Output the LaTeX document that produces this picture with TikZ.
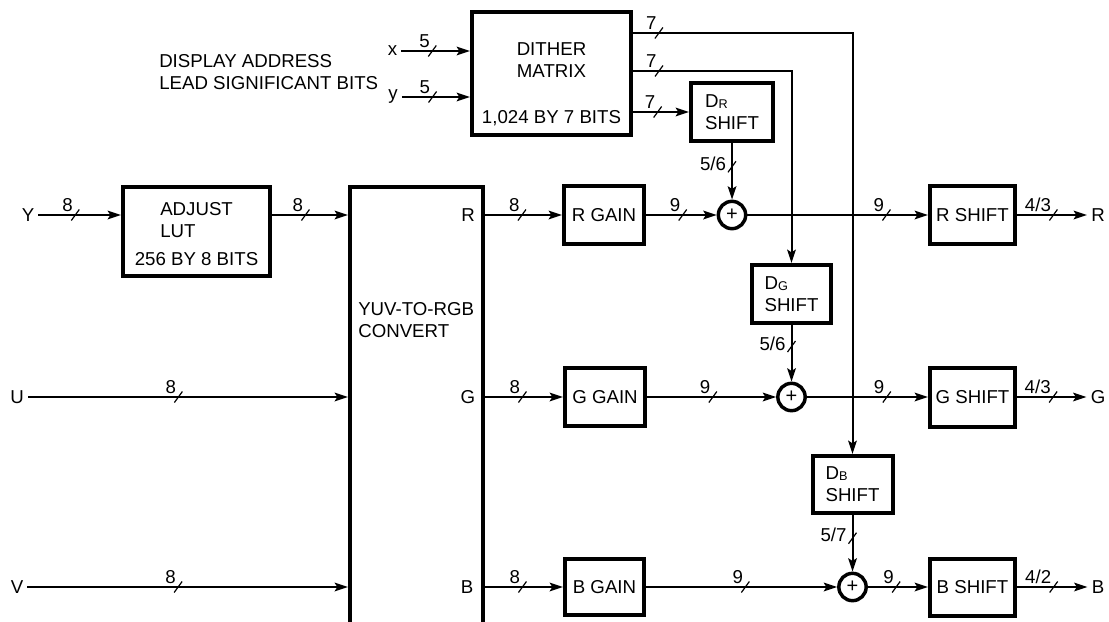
\documentclass[tikz,border=0pt]{standalone}
\usepackage{fontspec}
\setmainfont{Liberation Sans}
\usetikzlibrary{arrows.meta,calc}
\newcommand\sbs[1]{\raisebox{-0.6pt}{\fontsize{9.5}{10}\selectfont #1}}
\tikzset{
  blk/.style 2 args={draw, line width=3pt, inner sep=0, minimum width=#1*0.75pt, minimum height=#2*0.75pt},
  conn/.style={line width=1.5pt, -{Stealth[length=10pt,width=6.5pt,inset=2pt]}},
  adder/.style={circle, draw, line width=2.6pt, minimum size=20.5pt, inner sep=0, font=\fontsize{15}{15}\selectfont},
  lab/.style={inner sep=3pt},
  plain/.style={inner sep=0},
  pics/bh/.style={code={\draw[line width=0.9pt,-] (-4,5.5) -- (4,-5.5); \node[anchor=base east, inner sep=0] at (-1.5,-3.5) {#1};}},
  pics/bv/.style={code={\draw[line width=0.9pt,-] (-4,5.5) -- (4,-5.5); \node[anchor=base east, inner sep=0] at (-5,3.5) {#1};}},
}
\begin{document}
\begin{tikzpicture}[x=0.75pt, y=-0.75pt, font=\fontsize{14}{16.4}\selectfont]
\useasboundingbox (0,0) rectangle (1109,621);

% blocks
\node[blk={159}{123}] (dither) at (551.5,73.5) {};
\node[plain, align=center] (dithert) at (551.5,60) {DITHER\\MATRIX};
\node[plain] (ditherb) at (551.5,118) {1,024 BY 7 BITS};
\node[blk={82}{58}, align=left] (DR) at (732,112) {D\sbs{R}\\SHIFT};
\node[blk={147}{89}] (lut) at (196.5,231.5) {};
\node[plain, align=left, anchor=west] (lutt) at (160,220) {ADJUST\\LUT};
\node[plain] (lutb) at (196.5,259) {256 BY 8 BITS};
\node[blk={133}{473}] (yuv) at (416.5,423.5) {};
\node[plain, align=left, anchor=west] (yuvt) at (358,320) {YUV-TO-RGB\\CONVERT};
\node[plain] (yR) at (468,215) {R};
\node[plain] (yG) at (468,397) {G};
\node[plain] (yB) at (467,587) {B};

\node[blk={80}{58}] (Rgain) at (604,215) {R GAIN};
\node[blk={80}{58}] (Ggain) at (605,397) {G GAIN};
\node[blk={79}{56}] (Bgain) at (604.5,587) {B GAIN};
\node[blk={79}{58}, align=left] (DG) at (791.5,294) {D\sbs{G}\\SHIFT};
\node[blk={80}{57}, align=left] (DB) at (852.5,484.5) {D\sbs{B}\\SHIFT};
\node[blk={85}{58}] (Rshift) at (972.5,215) {R SHIFT};
\node[blk={85}{59}] (Gshift) at (972.5,397) {G SHIFT};
\node[blk={85}{57}] (Bshift) at (972.5,587) {B SHIFT};

\node[adder] (Radd) at (732,215) {+};
\node[adder] (Gadd) at (791.5,397) {+};
\node[adder] (Badd) at (852.5,587) {+};

% texts and terminals
\node[plain, align=left, anchor=west] (disp) at (159,72.5) {DISPLAY ADDRESS\\LEAD SIGNIFICANT BITS};
\node[lab] (xin) at (392.5,51) {x};
\node[lab] (yin) at (393,97) {y};
\node[lab] (Yin) at (28,215) {Y};
\node[lab] (Uin) at (17,397) {U};
\node[lab] (Vin) at (17,587) {V};
\node[lab] (Rout) at (1098,215) {R};
\node[lab] (Gout) at (1098,397) {G};
\node[lab] (Bout) at (1098,587) {B};

% connectors
\draw[conn] (xin.east) -- pic[pos=0.45]{bh=5} (xin.east -| dither.west);
\draw[conn] (yin.east) -- pic[pos=0.45]{bh=5} (yin.east -| dither.west);
\draw[conn] ($(dither.east)+(0,-40.5)$) -| pic[pos=0.059]{bh=7} (DB.north);
\draw[conn] ($(dither.east)+(0,-2.5)$) -| pic[pos=0.082]{bh=7} (DG.north);
\draw[conn] (DR.west -| dither.east) -- pic[pos=0.44]{bh=7} (DR.west);
\draw[conn] (DR.south) -- pic[pos=0.42]{bv=5/6} (Radd.north);
\draw[conn] (DG.south) -- pic[pos=0.38]{bv=5/6} (Gadd.north);
\draw[conn] (DB.south) -- pic[pos=0.41]{bv=5/7} (Badd.north);

\draw[conn] (Yin.east) -- pic[pos=0.446]{bh=8} (Yin.east -| lut.west);
\draw[conn] (Yin.east -| lut.east) -- pic[pos=0.44]{bh=8} (Yin.east -| yuv.west);
\draw[conn] (Uin.east) -- pic[pos=0.47]{bh=8} (Uin.east -| yuv.west);
\draw[conn] (Vin.east) -- pic[pos=0.47]{bh=8} (Vin.east -| yuv.west);

\draw[conn] (Rgain.west -| yuv.east) -- pic[pos=0.48]{bh=8} (Rgain.west);
\draw[conn] (Ggain.west -| yuv.east) -- pic[pos=0.48]{bh=8} (Ggain.west);
\draw[conn] (Bgain.west -| yuv.east) -- pic[pos=0.48]{bh=8} (Bgain.west);

\draw[conn] (Rgain.east) -- pic[pos=0.52]{bh=9} (Radd.west);
\draw[conn] (Ggain.east) -- pic[pos=0.51]{bh=9} (Gadd.west);
\draw[conn] (Bgain.east) -- pic[pos=0.52]{bh=9} (Badd.west);

\draw[conn] (Radd.east) -- pic[pos=0.77]{bh=9} (Rshift.west);
\draw[conn] (Gadd.east) -- pic[pos=0.66]{bh=9} (Gshift.west);
\draw[conn] (Badd.east) -- pic[pos=0.47]{bh=9} (Bshift.west);

\draw[conn] (Rshift.east) -- pic[pos=0.52]{bh=4/3} (Rout.west);
\draw[conn] (Gshift.east) -- pic[pos=0.52]{bh=4/3} (Gout.west);
\draw[conn] (Bshift.east) -- pic[pos=0.52]{bh=4/2} (Bout.west);
\end{tikzpicture}
\end{document}
